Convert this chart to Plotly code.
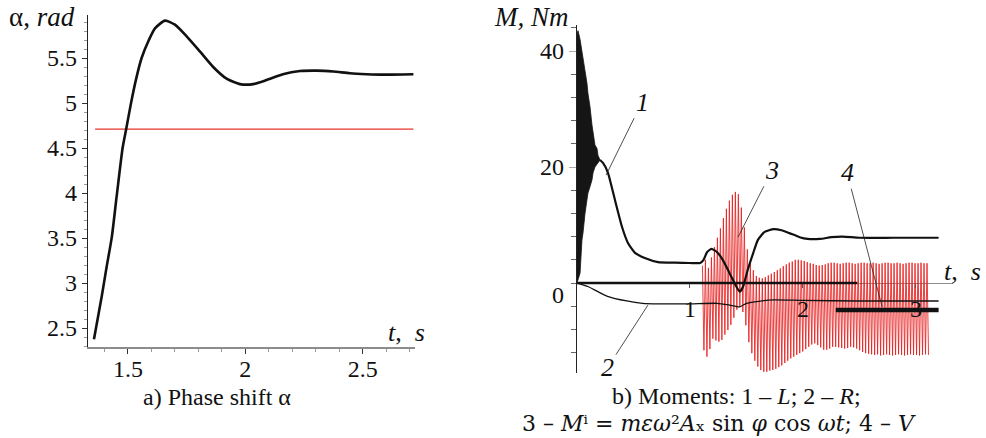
import plotly.graph_objects as go

# ---------------- Left panel: phase shift alpha ----------------
alpha_t = [1.355, 1.388, 1.409, 1.431, 1.452, 1.477, 1.4915, 1.513, 1.534, 1.558, 1.589, 1.615,
           1.658, 1.700, 1.750, 1.807, 1.863, 1.920, 1.977, 2.034, 2.090, 2.160, 2.233, 2.304,
           2.375, 2.446, 2.517, 2.588, 2.716]
alpha_v = [2.375, 2.85, 3.18, 3.51, 3.97, 4.50, 4.70, 5.00, 5.26, 5.50, 5.70, 5.83,
           5.915, 5.87, 5.74, 5.57, 5.40, 5.27, 5.21, 5.21, 5.255, 5.32, 5.355, 5.36,
           5.35, 5.33, 5.32, 5.315, 5.32]
ref_t = [1.36, 2.716]
ref_v = [4.71, 4.71]
left_xticks = [1.5, 2, 2.5]
left_xlabels = ["1.5", "2", "2.5"]
left_yticks = [2.5, 3, 3.5, 4, 4.5, 5, 5.5]
left_ylabels = ["2.5", "3", "3.5", "4", "4.5", "5", "5.5"]

# ---------------- Right panel: moments ----------------
# 1 - L : initial dense oscillation (envelope), then smooth curve
L_env_t = [0.0, 0.009, 0.027, 0.044, 0.053, 0.071, 0.088, 0.097, 0.115, 0.133, 0.142, 0.159, 0.177, 0.186, 0.204]
L_env_hi = [43.0, 43.5, 42.0, 40.0, 39.0, 36.7, 34.5, 32.7, 30.4, 27.2, 25.8, 23.8, 23.2, 22.0, 21.2]
L_env_lo = [0.0, 0.5, 1.7, 7.4, 8.6, 12.0, 14.3, 15.5, 16.6, 17.8, 19.0, 20.0, 20.3, 20.7, 21.2]
L_t = [0.204, 0.23, 0.274, 0.336, 0.398, 0.451, 0.513, 0.60, 0.717, 0.867, 1.00, 1.09, 1.12, 1.15,
       1.19, 1.24, 1.29, 1.35, 1.41, 1.44, 1.47, 1.51, 1.56, 1.60, 1.66, 1.74, 1.81, 1.88, 1.97,
       2.04, 2.15, 2.25, 2.35, 2.50, 2.80, 3.20]
L_v = [21.2, 20.7, 19.0, 14.3, 9.7, 6.9, 5.2, 4.3, 3.6, 3.5, 3.45, 3.45, 4.0, 5.3,
       5.9, 5.3, 4.0, 1.7, -0.6, -1.5, -0.6, 2.2, 5.2, 7.4, 8.8, 9.3, 9.1, 8.6, 7.9,
       7.6, 7.6, 7.9, 8.0, 7.8, 7.8, 7.8]
# 2 - R
R_t = [0, 0.097, 0.186, 0.27, 0.44, 0.58, 0.73, 1.0, 1.24, 1.35, 1.44, 1.50, 1.59, 1.74, 2.0, 2.5, 3.2]
R_v = [0, -0.6, -1.5, -2.3, -3.1, -3.5, -3.6, -3.6, -3.5, -3.8, -4.1, -3.5, -3.2, -2.9, -3.0, -3.1, -3.1]
# 3 - M^i : oscillation swings (upper / lower extreme of each swing)
M3_t0 = 1.11
M3_dt = 0.0265
M3_hi = [3.0, 4.0, 2.6, 4.4, 6.2, 7.8, 9.4, 11.2, 12.8, 14.2, 15.2, 15.7, 15.3, 13.0, 9.6, 5.8,
         3.4, 2.2, 1.2, 0.9, 0.8, 1.0, 1.3, 1.6, 1.9, 2.2, 2.5, 2.9, 3.2, 3.5, 3.7, 4.0,
         4.0, 3.9, 3.8, 3.6, 3.4, 3.3, 3.1, 3.0, 3.1, 3.2, 3.4, 3.5, 3.5, 3.4, 3.3, 3.4,
         3.5, 3.5, 3.4, 3.3, 3.4, 3.5, 3.5, 3.4, 3.4, 3.5, 3.4, 3.3, 3.4, 3.5, 3.5, 3.4,
         3.4, 3.5, 3.4, 3.3, 3.4, 3.5, 3.5, 3.4, 3.4, 3.5, 3.4, 3.4]
M3_lo = [-11.6, -12.7, -11.4, -9.6, -9.9, -10.1, -9.8, -8.9, -8.1, -7.2, -6.0, -4.6, -4.1, -5.0, -7.3, -10.2,
         -12.1, -13.4, -14.4, -15.0, -15.3, -15.3, -15.1, -15.0, -14.8, -14.5, -14.2, -13.8, -13.4, -13.0, -12.7, -12.4,
         -12.1, -11.8, -11.4, -11.0, -10.6, -10.4, -10.7, -11.1, -11.5, -11.5, -11.3, -11.0, -11.0, -11.1, -11.2, -11.3,
         -11.2, -11.0, -11.1, -11.3, -11.6, -11.9, -12.1, -12.2, -12.3, -12.4, -12.3, -12.5, -12.4, -12.3, -12.4, -12.5,
         -12.4, -12.3, -12.4, -12.5, -12.4, -12.3, -12.4, -12.4, -12.5, -12.4, -12.3, -12.4]
# 4 - V
V0_t = [0, 2.48]
V0_v = [0, 0]
V1_t = [2.29, 3.2]
V1_v = [-4.66, -4.66]
right_xticks = [1, 2, 3]
right_xlabels = ["1", "2", "3"]
right_yticks = [20, 40]
right_ylabels = ["20", "40"]

FONT = "Liberation Serif, Times New Roman, DejaVu Serif, serif"
MATHFONT = "DejaVu Serif, Liberation Serif, serif"
fig = go.Figure()

# left
fig.add_trace(go.Scatter(x=ref_t, y=ref_v, mode="lines", line=dict(color="#e8302a", width=1.2),
                         xaxis="x", yaxis="y", hoverinfo="skip"))
fig.add_trace(go.Scatter(x=alpha_t, y=alpha_v, mode="lines", line=dict(color="#111", width=2.6, shape="spline", smoothing=0.6),
                         xaxis="x", yaxis="y", hoverinfo="skip"))

# right: red oscillation as a zigzag through the swing extremes
rx, ry = [], []
for i, (h, l) in enumerate(zip(M3_hi, M3_lo)):
    t = M3_t0 + i * M3_dt
    rx += [t, t + M3_dt / 2]
    ry += [h, l]
fig.add_trace(go.Scatter(x=rx, y=ry, mode="lines", line=dict(color="rgba(232,30,30,0.85)", width=1),
                         xaxis="x2", yaxis="y2", hoverinfo="skip"))
# curve 1 envelope
fig.add_trace(go.Scatter(x=L_env_t + L_env_t[::-1], y=L_env_hi + L_env_lo[::-1], mode="lines",
                         fill="toself", fillcolor="#151515", line=dict(color="#151515", width=0.8),
                         xaxis="x2", yaxis="y2", hoverinfo="skip"))
fig.add_trace(go.Scatter(x=L_t, y=L_v, mode="lines", line=dict(color="#111", width=2.2, shape="spline", smoothing=0.5),
                         xaxis="x2", yaxis="y2", hoverinfo="skip"))
fig.add_trace(go.Scatter(x=R_t, y=R_v, mode="lines", line=dict(color="#111", width=1.3, shape="spline", smoothing=0.5),
                         xaxis="x2", yaxis="y2", hoverinfo="skip"))
fig.add_trace(go.Scatter(x=V0_t, y=V0_v, mode="lines", line=dict(color="#111", width=2.6),
                         xaxis="x2", yaxis="y2", hoverinfo="skip"))
fig.add_trace(go.Scatter(x=V1_t, y=V1_v, mode="lines", line=dict(color="#111", width=4.5),
                         xaxis="x2", yaxis="y2", hoverinfo="skip"))

tickfont = dict(family=FONT, size=24, color="#111")

fig.update_layout(
    width=986, height=438, margin=dict(l=0, r=0, t=0, b=0),
    paper_bgcolor="white", plot_bgcolor="white", showlegend=False,
    font=dict(family=FONT, size=24, color="#111"),
    xaxis=dict(domain=[0.08925, 0.42089], range=[1.3296, 2.7228], anchor="y",
               showline=True, linecolor="#8c8c8c", linewidth=2, showgrid=False, zeroline=False,
               ticks="outside", ticklen=5, tickcolor="#333", tickvals=left_xticks, ticktext=left_xlabels,
               tickfont=tickfont, ticklabelstandoff=-6,
               minor=dict(dtick=0.1, ticks="outside", ticklen=3, tickcolor="#999", showgrid=False)),
    yaxis=dict(domain=[0.20776, 0.96575], range=[2.2889, 5.9778], anchor="x",
               showline=True, linecolor="#222", linewidth=1.2, showgrid=False, zeroline=False,
               ticks="outside", ticklen=5, tickcolor="#333", tickvals=left_yticks, ticktext=left_ylabels,
               tickfont=tickfont,
               minor=dict(dtick=0.1, ticks="outside", ticklen=3, tickcolor="#999", showgrid=False)),
    xaxis2=dict(domain=[0.58519, 0.96653], range=[0, 3.3274], anchor="free", position=0.35388,
                showline=False, showgrid=False, zeroline=False,
                ticks="outside", ticklen=4, tickcolor="#555", tickvals=right_xticks, ticktext=right_xlabels,
                tickfont=tickfont),
    yaxis2=dict(domain=[0.14840, 0.94292], range=[-15.517, 44.483], anchor="x2",
                showline=True, linecolor="#222", linewidth=1.2, showgrid=False,
                zeroline=True, zerolinecolor="#8c8c8c", zerolinewidth=1.3,
                ticks="outside", ticklen=7, tickcolor="#aaa", tickvals=right_yticks, ticktext=right_ylabels,
                tickfont=tickfont,
                minor=dict(dtick=4, ticks="outside", ticklen=5, tickcolor="#666", showgrid=False)),
)

ann = []
def P(px, py, text, size=24, family=FONT):
    ann.append(dict(xref="paper", yref="paper", x=px / 986, y=1 - py / 438, text=text, showarrow=False,
                    font=dict(family=family, size=size, color="#111"), xanchor="center", yanchor="middle"))

P(42, 17, "α, <i>rad</i>", size=27)
P(531, 17, "<i>M, Nm</i>", size=27)
P(406, 332, "<i>t</i>,  <i>s</i>", size=26)
P(962, 271, "<i>t</i>,  <i>s</i>", size=26)
P(217, 397, "a) Phase shift α")
P(736, 396, "b) Moments: 1 – <i>L</i>; 2 – <i>R</i>;")
P(719, 423, "3 – <i>M</i>ⁱ = <i>mεω</i>²<i>A</i>ₓ sin <i>φ</i> cos <i>ωt</i>; 4 – <i>V</i>",
  size=22, family=MATHFONT)

ann.append(dict(xref="x2", yref="y2", x=0, y=0, text="0", showarrow=False, xshift=-19, yshift=-12,
                font=dict(family=FONT, size=24, color="#111")))

# curve labels with leader lines
labels = [("1", 0.257, 18.6, 36, -73), ("2", 0.628, -3.8, -40, 62),
          ("3", 1.425, 7.9, 34, -67), ("4", 2.70, -4.1, -35, -134)]
for txt, lx, ly, ax, ay in labels:
    ann.append(dict(xref="x2", yref="y2", x=lx, y=ly, text="<i>" + txt + "</i>", showarrow=True,
                    arrowhead=0, arrowwidth=0.8, arrowcolor="#222", ax=ax, ay=ay,
                    font=dict(family=FONT, size=26, color="#111")))

fig.update_layout(annotations=ann)
fig.write_html("out.html")
